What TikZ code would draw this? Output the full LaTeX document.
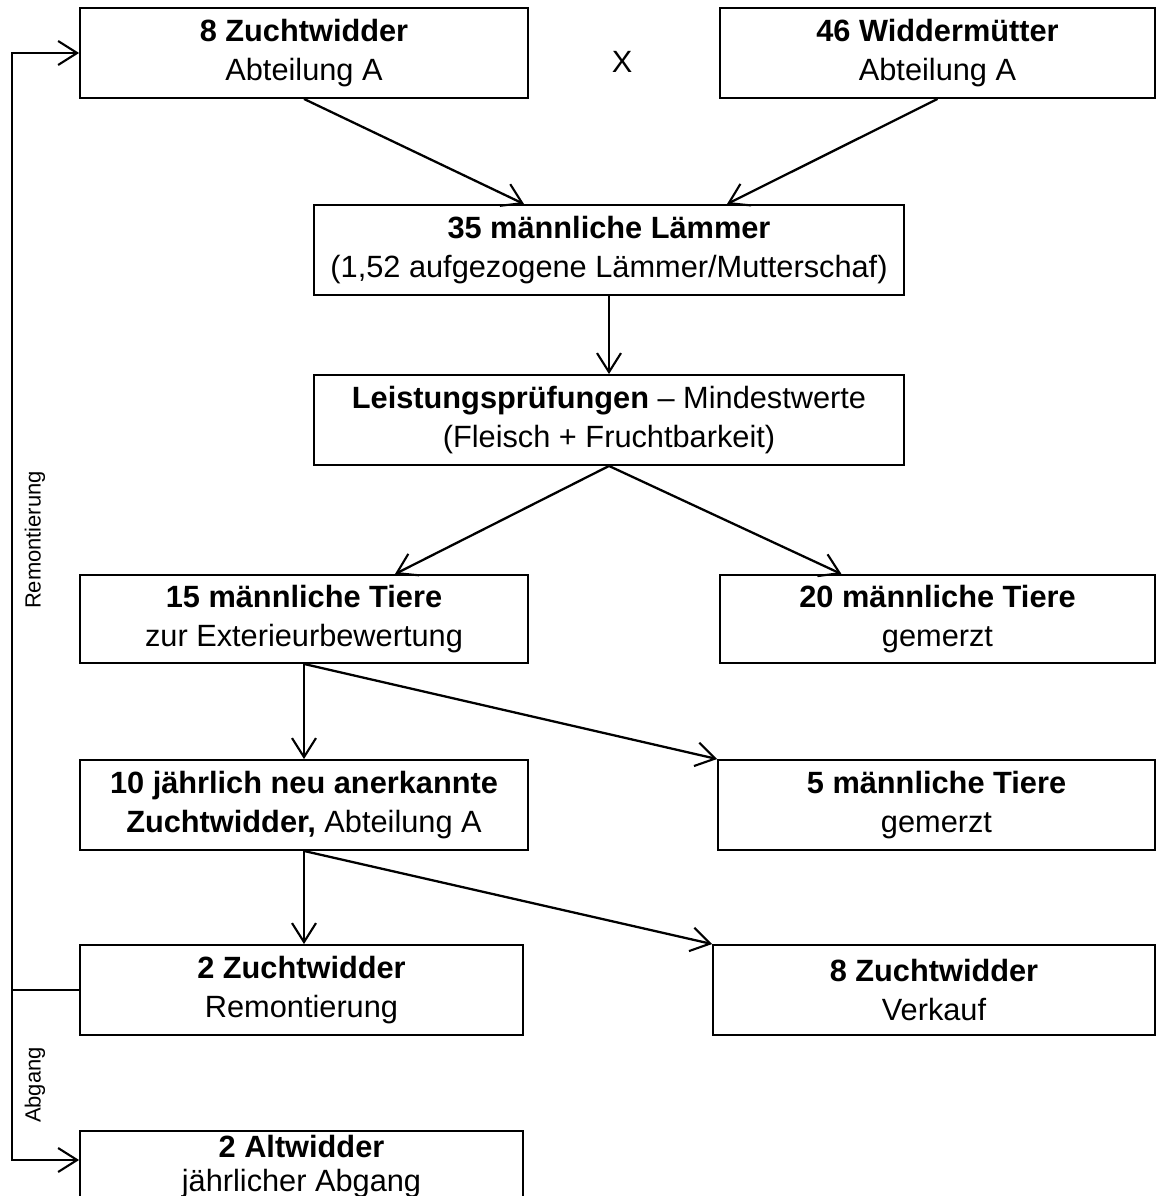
\documentclass[tikz,border=0pt]{standalone}
\usepackage{fontspec}
\setmainfont{Liberation Sans}
\usetikzlibrary{arrows.meta}
\usetikzlibrary{calc}

\tikzset{
  kasten/.style={draw,line width=1.1pt,rectangle,align=center,inner sep=0pt,
    font=\fontsize{17.5}{22}\selectfont},
  pfeil/.style={line width=1.3pt,-{Straight Barb[length=3.8mm,width=4.8mm,line width=1.2pt]}},
  linie/.style={line width=1.3pt},
  seite/.style={rotate=90,font=\fontsize{12.5}{14}\selectfont}
}

\begin{document}
\begin{tikzpicture}[x=0.02cm,y=-0.02cm]
\useasboundingbox (0,0) rectangle (1157,1196);

\node[kasten,minimum width=8.96cm,minimum height=1.8cm] (zw) at (304,53) {\textbf{8 Zuchtwidder}\\Abteilung A};
\node[kasten,minimum width=8.7cm,minimum height=1.8cm] (wm) at (937.5,53) {\textbf{46 Widderm\"utter}\\Abteilung A};
\node[font=\fontsize{17.5}{20}\selectfont] (kreuz) at (622,62) {X};

\node[kasten,minimum width=11.8cm,minimum height=1.8cm] (lae) at (609,250) {\textbf{35 m\"annliche L\"ammer}\\(1,52 aufgezogene L\"ammer/Mutterschaf)};
\node[kasten,minimum width=11.8cm,minimum height=1.8cm] (lp) at (609,420) {\textbf{Leistungspr\"ufungen} -- Mindestwerte\\(Fleisch + Fruchtbarkeit)};

\node[kasten,minimum width=8.96cm,minimum height=1.76cm] (ext) at (304,619) {\textbf{15 m\"annliche Tiere}\\zur Exterieurbewertung};
\node[kasten,minimum width=8.7cm,minimum height=1.76cm] (gem1) at (937.5,619) {\textbf{20 m\"annliche Tiere}\\gemerzt};

\node[kasten,minimum width=8.96cm,minimum height=1.8cm] (anerk) at (304,805) {\textbf{10 j\"ahrlich neu anerkannte}\\\textbf{Zuchtwidder,} Abteilung A};
\node[kasten,minimum width=8.74cm,minimum height=1.8cm] (gem2) at (936.5,805) {\textbf{5 m\"annliche Tiere}\\gemerzt};

\node[kasten,minimum width=8.86cm,minimum height=1.8cm] (rem) at (301.5,990) {\textbf{2 Zuchtwidder}\\Remontierung};
\node[kasten,minimum width=8.84cm,minimum height=1.8cm] (verk) at (934,990) {\textbf{8 Zuchtwidder}\\Verkauf};

\node[kasten,minimum width=8.86cm,inner ysep=2.5pt,anchor=north,font=\fontsize{17.5}{19.5}\selectfont] (alt) at (301.5,1130) {\textbf{2 Altwidder}\\j\"ahrlicher Abgang};

\draw[pfeil] (zw.south) -- ($(lae.north)+(-85,0)$);
\draw[pfeil] (wm.south) -- ($(lae.north)+(118,0)$);
\draw[pfeil] (lae.south) -- (lp.north);
\draw[pfeil] (lp.south) -- ($(ext.north)+(91,0)$);
\draw[pfeil] (lp.south) -- ($(gem1.north)+(-96,0)$);
\draw[pfeil] (ext.south) -- (ext.south |- anerk.north);
\draw[pfeil] (ext.south) -- (gem2.north west);
\draw[pfeil] (anerk.south) -- (anerk.south |- rem.north);
\draw[pfeil] (anerk.south) -- (verk.north west);

\coordinate (ruck) at (12,990);
\draw[linie] (rem.west) -- (ruck);
\draw[pfeil] (ruck) |- (zw.west);
\draw[pfeil] (ruck) |- ($(alt.north west)+(0,30)$);
\node[seite] (remtext) at (35,540) {Remontierung};
\node[seite] (abtext) at (35,1085) {Abgang};

\end{tikzpicture}
\end{document}
